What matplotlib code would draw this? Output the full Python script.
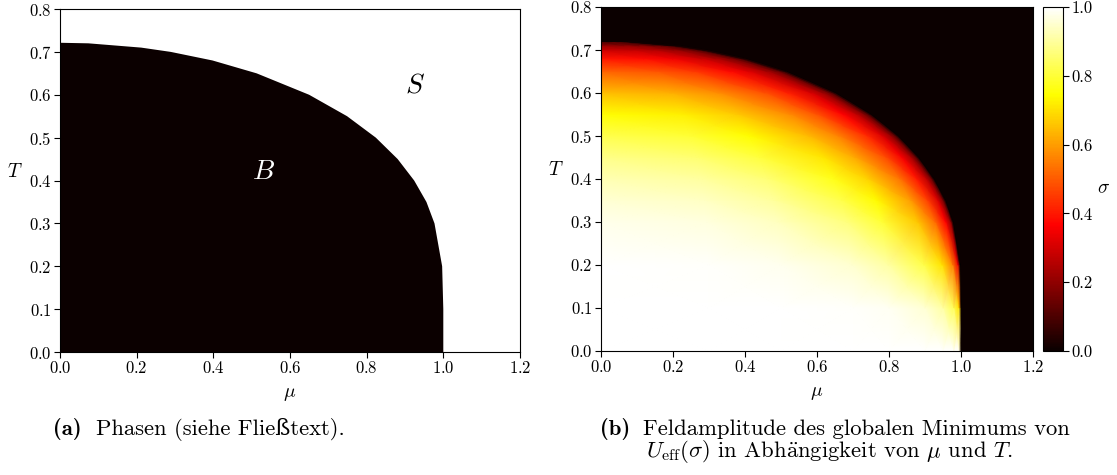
import matplotlib
matplotlib.use('Agg')
import matplotlib.pyplot as plt
import numpy as np

plt.rcParams['font.family'] = ['cmr10', 'DejaVu Serif']
plt.rcParams['mathtext.fontset'] = 'cm'
plt.rcParams['axes.formatter.use_mathtext'] = True
plt.rcParams['axes.unicode_minus'] = False

# phase boundary mu_c(T) between broken (B) and symmetric (S) phase
T_edge = [0.0, 0.1, 0.2, 0.3, 0.35, 0.4, 0.45, 0.5, 0.55, 0.6,
          0.65, 0.68, 0.7, 0.71, 0.72, 0.7213]
mu_edge = [1.0, 1.0, 0.997, 0.977, 0.956, 0.924, 0.881, 0.824, 0.749, 0.650,
           0.513, 0.398, 0.289, 0.212, 0.074, 0.0]

# sigma of the global minimum, sampled on each T row at mu = frac * mu_c(T)
frac = [0.0, 0.3, 0.5, 0.7, 0.8, 0.9, 0.95, 0.98, 0.995, 1.0]
sigma = [
    [1.000, 1.000, 1.000, 1.000, 1.000, 1.000, 1.000, 1.000, 1.000, 0],
    [1.000, 1.000, 0.999, 0.995, 0.985, 0.954, 0.907, 0.829, 0.698, 0],
    [0.997, 0.994, 0.983, 0.950, 0.910, 0.817, 0.707, 0.552, 0.338, 0],
    [0.977, 0.965, 0.937, 0.869, 0.799, 0.663, 0.524, 0.364, 0.197, 0],
    [0.956, 0.939, 0.902, 0.820, 0.740, 0.594, 0.456, 0.306, 0.156, 0],
    [0.924, 0.904, 0.860, 0.767, 0.681, 0.533, 0.401, 0.265, 0.135, 0],
    [0.881, 0.858, 0.808, 0.709, 0.621, 0.476, 0.353, 0.230, 0.117, 0],
    [0.824, 0.798, 0.746, 0.644, 0.559, 0.422, 0.309, 0.200, 0.102, 0],
    [0.749, 0.723, 0.670, 0.572, 0.491, 0.366, 0.266, 0.171, 0.087, 0],
    [0.650, 0.625, 0.576, 0.485, 0.414, 0.306, 0.221, 0.142, 0.072, 0],
    [0.514, 0.492, 0.450, 0.376, 0.318, 0.233, 0.168, 0.108, 0.055, 0],
    [0.398, 0.380, 0.347, 0.288, 0.243, 0.177, 0.127, 0.082, 0.041, 0],
    [0.289, 0.276, 0.251, 0.208, 0.175, 0.127, 0.091, 0.058, 0.029, 0],
    [0.212, 0.202, 0.184, 0.152, 0.128, 0.093, 0.067, 0.044, 0.022, 0],
    [0.074, 0.071, 0.064, 0.053, 0.045, 0.032, 0.023, 0.015, 0.007, 0],
    [0, 0, 0, 0, 0, 0, 0, 0, 0, 0],
]

x_ticks = [0.0, 0.2, 0.4, 0.6, 0.8, 1.0, 1.2]
y_ticks = [0.0, 0.1, 0.2, 0.3, 0.4, 0.5, 0.6, 0.7, 0.8]
cbar_ticks = [0.0, 0.2, 0.4, 0.6, 0.8, 1.0]

black = plt.cm.hot(0.0)

fig = plt.figure(figsize=(11.17, 4.75), dpi=100)
ax1 = fig.add_axes([0.0537, 0.2589, 0.4118, 0.7221])
ax2 = fig.add_axes([0.538, 0.2611, 0.3868, 0.7242])
cax = fig.add_axes([0.9337, 0.2611, 0.0179, 0.7242])


def style_axes(ax):
    ax.set_xlim(0, 1.2)
    ax.set_ylim(0, 0.8)
    ax.set_xticks(x_ticks)
    ax.set_yticks(y_ticks)
    ax.tick_params(direction='out', length=4, labelsize=12, pad=2)
    ax.set_xlabel(r'$\mu$', fontsize=14, labelpad=6)
    ax.set_ylabel(r'$T$', fontsize=14, rotation=0, labelpad=10)


# left: phases
ax1.set_facecolor('white')
ax1.fill(np.r_[0.0, mu_edge], np.r_[0.0, T_edge], color=black, lw=0)
ax1.text(0.53, 0.42, r'$B$', color='white', fontsize=20, ha='center', va='center')
ax1.text(0.926, 0.623, r'$S$', color='black', fontsize=20, ha='center', va='center')
style_axes(ax1)

# right: field amplitude, mesh follows the phase boundary
ax2.set_facecolor(black)
MU = np.outer(mu_edge, frac)
TT = np.repeat(np.array(T_edge)[:, None], len(frac), axis=1)
mesh = ax2.pcolormesh(MU, TT, np.array(sigma), cmap='hot', vmin=0, vmax=1,
                      shading='gouraud')
style_axes(ax2)

cb = fig.colorbar(mesh, cax=cax, ticks=cbar_ticks)
cb.ax.set_yticklabels(['%.1f' % t for t in cbar_ticks])
cb.ax.tick_params(direction='out', length=4, labelsize=12, pad=2)
cb.set_label(r'$\sigma$', fontsize=14, rotation=0, labelpad=8)

# captions
fig.text(0.0475, 0.085, '(a)', family='cmb10', fontsize=16.3, va='baseline')
fig.text(0.0855, 0.085, 'Phasen (siehe Fließtext).', fontsize=16.3, va='baseline')
fig.text(0.537, 0.085, '(b)', family='cmb10', fontsize=16.3, va='baseline')
fig.text(0.5755, 0.085, 'Feldamplitude des globalen Minimums von', fontsize=16.3,
         va='baseline')
fig.text(0.7425, 0.037,
         r'$U_{\mathrm{eff}}(\sigma)$ in Abh$\ddot{\mathrm{a}}$ngigkeit von $\mu$ und $T$.',
         fontsize=16.3, va='baseline', ha='center')

fig.savefig('out.png', dpi=100)
